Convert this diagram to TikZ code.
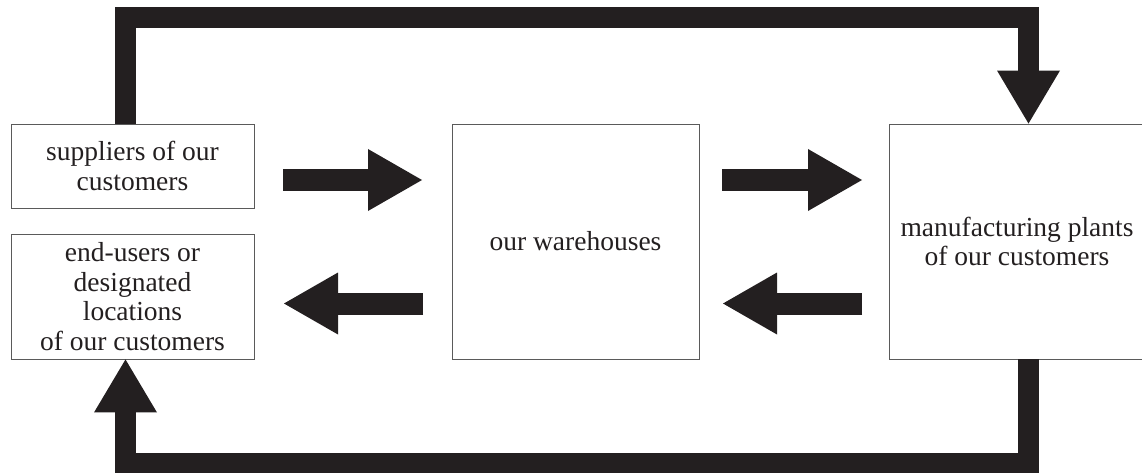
\documentclass[tikz,border=0pt]{standalone}
\usepackage{fontspec}
\setmainfont{Liberation Serif}
\usepackage{xcolor}
\usepackage{tikz}
\usetikzlibrary{arrows.meta, calc}
\definecolor{ink}{HTML}{231F20}
\definecolor{edge}{HTML}{5A5A5A}

\begin{document}
\begin{tikzpicture}[
  x=1pt, y=-1pt,
  font=\fontsize{27.5}{29.5}\selectfont,
  box/.style={rectangle, draw=edge, line width=0.9pt, align=center, inner sep=0pt, text=ink},
  loopline/.style={draw=ink, line width=21pt, line join=miter,
    -{Triangle[length=53pt, width=63pt, line width=0pt]}},
  blockarrow/.style={draw=ink, line width=22pt,
    -{Triangle[length=54pt, width=62pt, line width=0pt]}}
]
  \useasboundingbox (0,0) rectangle (1142,473);
  % boxes
  \node[box, minimum width=243pt, minimum height=84pt] (sup) at (132.5,166)
    {suppliers of our\\customers};
  \node[box, minimum width=243pt, minimum height=125pt] (endu) at (132.5,296.5)
    {end-users or\\designated\\locations\\of our customers};
  \node[box, minimum width=247pt, minimum height=235pt] (wh) at (575.5,241.5)
    {our warehouses};
  \node[box, minimum width=256pt, minimum height=235pt] (mfg) at (1017,241.5)
    {manufacturing plants\\of our customers};
  % flows through the warehouses
  \foreach \nm/\xa/\xb/\yy in {sw/283/422/180, wm/722/862/180,
                               mw/862/723/303.5, we/423/284/303.5} {
    \coordinate (\nm s) at (\xa,\yy);
    \coordinate (\nm e) at (\xb,\yy);
    \draw[blockarrow] (\nm s) -- (\nm e);
  }
  % direct flows round the outside
  \coordinate (tl) at (125.5,17.5);
  \coordinate (tr) at (1028.5,17.5);
  \coordinate (br) at (1028.5,463);
  \coordinate (bl) at (125.5,463);
  \draw[loopline] (sup.north -| tl) -- (tl) -- (tr) -- (mfg.north -| tr);
  \draw[loopline] (mfg.south -| br) -- (br) -- (bl) -- (endu.south -| bl);
\end{tikzpicture}
\end{document}
